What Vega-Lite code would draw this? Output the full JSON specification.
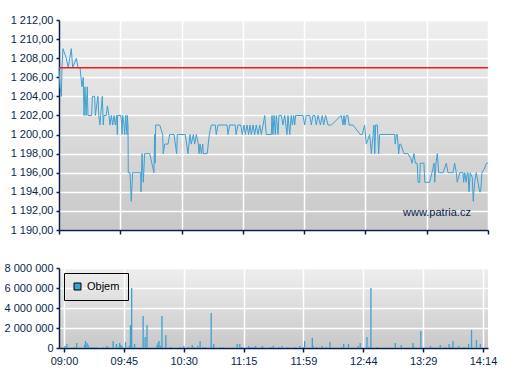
{
  "$schema": "https://vega.github.io/schema/vega-lite/v6.json",
  "padding": {"left": 4, "top": 14, "right": 5, "bottom": 5},
  "background": "white",
  "spacing": 27,
  "resolve": {"scale": {"color": "independent"}, "legend": {"color": "independent"}},
  "config": {
    "font": "Liberation Sans",
    "view": {"stroke": null, "fill": {"gradient": "linear", "x1": 0, "y1": 0, "x2": 0, "y2": 1, "stops": [{"offset": 0, "color": "#efefef"}, {"offset": 1, "color": "#c8c8c8"}]}},
    "axis": {"labelFont": "Liberation Sans", "labelFontSize": 11, "labelColor": "#0a1f4d", "domainColor": "#0a1f4d", "tickColor": "#0a1f4d", "domainWidth": 1.5, "tickWidth": 1.5, "gridColor": "#ffffff", "gridWidth": 1.5, "gridOpacity": 1, "labelFlush": false, "labelOverlap": false}
  },
  "datasets": {
    "price": [
      {"m":0.0,"p":1207},{"m":0.7,"p":1205},{"m":1.7,"p":1204},{"m":2.2,"p":1207},{"m":2.9,"p":1209},{"m":5.3,"p":1208},{"m":6.8,"p":1207},{"m":9.0,"p":1209},{"m":10.0,"p":1207},{"m":12.7,"p":1208},{"m":13.9,"p":1207},{"m":15.4,"p":1207},{"m":16.8,"p":1205},{"m":17.8,"p":1206},{"m":18.3,"p":1202},{"m":19.0,"p":1205},{"m":19.8,"p":1202},{"m":20.7,"p":1205},{"m":21.2,"p":1202},{"m":23.9,"p":1202},{"m":24.4,"p":1204},{"m":26.1,"p":1204},{"m":26.6,"p":1202},{"m":28.5,"p":1204},{"m":29.1,"p":1202},{"m":30.0,"p":1201},{"m":30.5,"p":1202},{"m":31.7,"p":1204},{"m":32.4,"p":1201},{"m":32.9,"p":1202},{"m":34.6,"p":1202},{"m":35.4,"p":1203},{"m":36.6,"p":1202},{"m":37.3,"p":1201},{"m":38.3,"p":1202},{"m":39.3,"p":1201},{"m":40.3,"p":1202},{"m":41.2,"p":1201},{"m":42.2,"p":1202},{"m":42.7,"p":1200},{"m":42.9,"p":1202},{"m":45.2,"p":1202},{"m":45.9,"p":1201},{"m":46.1,"p":1200},{"m":46.6,"p":1202},{"m":47.6,"p":1201},{"m":48.1,"p":1200},{"m":48.8,"p":1202},{"m":49.8,"p":1200},{"m":50.0,"p":1202},{"m":50.5,"p":1201},{"m":50.7,"p":1196},{"m":52.0,"p":1196},{"m":52.9,"p":1193},{"m":53.9,"p":1196},{"m":59.8,"p":1196},{"m":60.0,"p":1194},{"m":60.8,"p":1198},{"m":61.7,"p":1195},{"m":62.7,"p":1198},{"m":66.4,"p":1198},{"m":69.5,"p":1196},{"m":70.0,"p":1200},{"m":70.3,"p":1197},{"m":70.8,"p":1201},{"m":73.7,"p":1201},{"m":75.9,"p":1200},{"m":76.3,"p":1198},{"m":77.4,"p":1199},{"m":79.8,"p":1199},{"m":81.0,"p":1200},{"m":84.2,"p":1200},{"m":86.1,"p":1198},{"m":86.6,"p":1200},{"m":92.4,"p":1200},{"m":94.4,"p":1198},{"m":95.9,"p":1200},{"m":96.8,"p":1199},{"m":98.3,"p":1200},{"m":99.3,"p":1199},{"m":100.5,"p":1200},{"m":102.0,"p":1199},{"m":102.5,"p":1198},{"m":103.2,"p":1199},{"m":104.2,"p":1198},{"m":105.2,"p":1199},{"m":105.6,"p":1198},{"m":108.5,"p":1198},{"m":110.0,"p":1200},{"m":111.5,"p":1201},{"m":114.4,"p":1201},{"m":115.1,"p":1200},{"m":116.4,"p":1201},{"m":123.0,"p":1201},{"m":123.7,"p":1200},{"m":124.9,"p":1201},{"m":129.0,"p":1201},{"m":129.6,"p":1200},{"m":131.0,"p":1201},{"m":133.0,"p":1201},{"m":134.2,"p":1200},{"m":135.4,"p":1201},{"m":136.4,"p":1200},{"m":137.6,"p":1201},{"m":138.8,"p":1200},{"m":139.8,"p":1201},{"m":140.8,"p":1200},{"m":142.0,"p":1201},{"m":143.2,"p":1200},{"m":144.4,"p":1201},{"m":145.7,"p":1200},{"m":146.9,"p":1201},{"m":148.1,"p":1200},{"m":150.6,"p":1202},{"m":151.7,"p":1200},{"m":155.4,"p":1200},{"m":155.9,"p":1202},{"m":156.6,"p":1200},{"m":157.4,"p":1202},{"m":158.3,"p":1200},{"m":159.1,"p":1202},{"m":160.3,"p":1200},{"m":161.0,"p":1202},{"m":162.7,"p":1202},{"m":163.9,"p":1201},{"m":165.2,"p":1202},{"m":166.9,"p":1200},{"m":167.6,"p":1202},{"m":168.9,"p":1200},{"m":170.0,"p":1202},{"m":170.8,"p":1201},{"m":171.8,"p":1202},{"m":172.5,"p":1201},{"m":173.2,"p":1202},{"m":178.6,"p":1202},{"m":179.8,"p":1201},{"m":181.0,"p":1202},{"m":183.5,"p":1202},{"m":184.7,"p":1201},{"m":185.9,"p":1202},{"m":187.2,"p":1202},{"m":188.3,"p":1201},{"m":189.6,"p":1202},{"m":191.3,"p":1201},{"m":192.7,"p":1202},{"m":193.7,"p":1201},{"m":195.2,"p":1202},{"m":196.9,"p":1201},{"m":199.3,"p":1201},{"m":206.6,"p":1202},{"m":207.9,"p":1201},{"m":208.6,"p":1202},{"m":209.3,"p":1201},{"m":210.3,"p":1202},{"m":211.5,"p":1202},{"m":212.3,"p":1201},{"m":215.2,"p":1201},{"m":220.5,"p":1200},{"m":222.0,"p":1200},{"m":223.7,"p":1201},{"m":224.9,"p":1199},{"m":226.2,"p":1199.5},{"m":227.4,"p":1200},{"m":228.6,"p":1198},{"m":230.6,"p":1201},{"m":231.1,"p":1198},{"m":231.8,"p":1201},{"m":233.0,"p":1201},{"m":234.0,"p":1198},{"m":234.7,"p":1200},{"m":245.7,"p":1200},{"m":246.1,"p":1199},{"m":246.9,"p":1200},{"m":247.6,"p":1200},{"m":248.6,"p":1198},{"m":249.4,"p":1199},{"m":250.1,"p":1199},{"m":252.5,"p":1198},{"m":255.4,"p":1198},{"m":257.4,"p":1197.5},{"m":258.4,"p":1197},{"m":259.8,"p":1198},{"m":260.8,"p":1197},{"m":262.2,"p":1197},{"m":262.8,"p":1195},{"m":264.0,"p":1195},{"m":264.4,"p":1197},{"m":267.1,"p":1197},{"m":267.7,"p":1195},{"m":271.3,"p":1195},{"m":273.0,"p":1196},{"m":274.5,"p":1197},{"m":275.0,"p":1195},{"m":275.9,"p":1197},{"m":276.9,"p":1198},{"m":277.9,"p":1196},{"m":278.6,"p":1196},{"m":281.1,"p":1196},{"m":283.5,"p":1197},{"m":284.7,"p":1196},{"m":288.4,"p":1196},{"m":289.6,"p":1197},{"m":290.8,"p":1196},{"m":291.5,"p":1195},{"m":293.3,"p":1196},{"m":295.7,"p":1196},{"m":296.2,"p":1195},{"m":296.9,"p":1196},{"m":298.1,"p":1195},{"m":298.8,"p":1196},{"m":299.4,"p":1196},{"m":300.1,"p":1194},{"m":301.0,"p":1196},{"m":302.5,"p":1195.5},{"m":303.2,"p":1193},{"m":304.2,"p":1195},{"m":305.4,"p":1196},{"m":306.7,"p":1195},{"m":307.9,"p":1194},{"m":308.6,"p":1194},{"m":309.6,"p":1196},{"m":311.6,"p":1196.5},{"m":312.8,"p":1197},{"m":314.0,"p":1197}
    ],
    "volume": [
      {"m":0.7,"v":200000},{"m":2.2,"v":400000},{"m":7.5,"v":100000},{"m":9.5,"v":500000},{"m":15.4,"v":300000},{"m":16.1,"v":700000},{"m":17.3,"v":500000},{"m":18.1,"v":300000},{"m":19.2,"v":100000},{"m":21.0,"v":100000},{"m":22.9,"v":100000},{"m":24.2,"v":100000},{"m":29.5,"v":100000},{"m":32.0,"v":200000},{"m":33.2,"v":100000},{"m":36.8,"v":700000},{"m":39.3,"v":400000},{"m":40.5,"v":100000},{"m":41.7,"v":500000},{"m":42.5,"v":300000},{"m":43.4,"v":200000},{"m":46.1,"v":600000},{"m":49.0,"v":200000},{"m":49.8,"v":2300000},{"m":50.7,"v":6000000},{"m":51.5,"v":100000},{"m":52.9,"v":400000},{"m":59.3,"v":3200000},{"m":60.8,"v":1100000},{"m":62.2,"v":2300000},{"m":69.8,"v":300000},{"m":70.5,"v":500000},{"m":71.2,"v":700000},{"m":72.2,"v":200000},{"m":73.4,"v":3200000},{"m":76.3,"v":1300000},{"m":80.0,"v":100000},{"m":86.9,"v":100000},{"m":89.8,"v":200000},{"m":93.0,"v":100000},{"m":96.1,"v":300000},{"m":97.3,"v":100000},{"m":100.3,"v":200000},{"m":102.0,"v":700000},{"m":104.4,"v":100000},{"m":106.1,"v":100000},{"m":110.3,"v":3500000},{"m":111.0,"v":100000},{"m":112.2,"v":400000},{"m":116.9,"v":100000},{"m":119.5,"v":100000},{"m":129.8,"v":400000},{"m":131.7,"v":400000},{"m":133.0,"v":100000},{"m":138.3,"v":200000},{"m":140.0,"v":100000},{"m":141.5,"v":100000},{"m":142.5,"v":100000},{"m":143.7,"v":200000},{"m":148.1,"v":100000},{"m":148.8,"v":200000},{"m":155.0,"v":100000},{"m":155.9,"v":100000},{"m":156.9,"v":200000},{"m":161.0,"v":100000},{"m":163.4,"v":200000},{"m":167.8,"v":100000},{"m":173.0,"v":100000},{"m":176.6,"v":200000},{"m":179.3,"v":100000},{"m":180.3,"v":700000},{"m":186.1,"v":1000000},{"m":186.6,"v":200000},{"m":189.1,"v":100000},{"m":193.5,"v":200000},{"m":196.4,"v":100000},{"m":199.3,"v":600000},{"m":208.1,"v":100000},{"m":209.6,"v":400000},{"m":213.2,"v":400000},{"m":220.5,"v":200000},{"m":222.0,"v":500000},{"m":227.1,"v":1100000},{"m":228.6,"v":100000},{"m":230.0,"v":6000000},{"m":234.4,"v":100000},{"m":248.3,"v":500000},{"m":252.7,"v":300000},{"m":261.5,"v":500000},{"m":262.3,"v":100000},{"m":267.4,"v":1700000},{"m":274.7,"v":200000},{"m":282.0,"v":300000},{"m":285.7,"v":100000},{"m":288.6,"v":400000},{"m":290.1,"v":100000},{"m":291.5,"v":700000},{"m":295.9,"v":200000},{"m":299.6,"v":100000},{"m":300.3,"v":100000},{"m":303.2,"v":400000},{"m":305.4,"v":1800000},{"m":309.1,"v":800000},{"m":312.0,"v":400000}
    ]
  },
  "vconcat": [
    {
      "width": 429,
      "height": 210,
      "layer": [
        {
          "data": {"name": "price"},
          "mark": {"type": "line", "color": "#3fa0d2", "strokeWidth": 1},
          "encoding": {
            "x": {"field": "m", "type": "quantitative", "title": null, "scale": {"domain": [0, 314], "nice": false, "zero": false},
                  "axis": {"values": [0, 44.857, 89.714, 134.571, 179.429, 224.286, 269.143, 314], "tickCount": 100, "labels": false, "tickSize": 4, "grid": true}},
            "y": {"field": "p", "type": "quantitative", "title": null, "scale": {"domain": [1190, 1212], "nice": false, "zero": false},
                  "axis": {"values": [1190, 1192, 1194, 1196, 1198, 1200, 1202, 1204, 1206, 1208, 1210, 1212], "tickCount": 100, "tickSize": 3, "labelPadding": 3, "grid": true,
                           "labelExpr": "replace(replace(format(datum.value, ',.2f'), ',', ' '), '.', ',')"}}
          }
        },
        {
          "data": {"values": [{"ref": 1207}]},
          "mark": {"type": "rule", "color": "#ee1c1c", "strokeWidth": 1.3},
          "encoding": {"y": {"field": "ref", "type": "quantitative"}}
        },
        {
          "data": {"values": [{"label": "www.patria.cz", "m": 301.5, "p": 1191.8}]},
          "mark": {"type": "text", "align": "right", "baseline": "middle", "fontSize": 11, "font": "Liberation Sans", "color": "#0a1f4d"},
          "encoding": {
            "x": {"field": "m", "type": "quantitative"},
            "y": {"field": "p", "type": "quantitative"},
            "text": {"field": "label"}
          }
        }
      ]
    },
    {
      "width": 429,
      "height": 80,
      "data": {"name": "volume"},
      "mark": {"type": "bar", "size": 1.3},
      "encoding": {
        "x": {"field": "m", "type": "quantitative", "title": null, "scale": {"domain": [0, 314], "nice": false, "zero": false},
              "axis": {"values": [0, 44.857, 89.714, 134.571, 179.429, 224.286, 269.143, 314], "tickCount": 100, "tickSize": 4, "labelPadding": 3, "grid": true,
                       "labelExpr": "timeFormat(datetime(2020, 0, 1, 9, round(datum.value)), '%H:%M')"}},
        "y": {"field": "v", "type": "quantitative", "title": null, "scale": {"domain": [0, 8000000], "nice": false},
              "axis": {"values": [0, 2000000, 4000000, 6000000, 8000000], "tickCount": 100, "tickSize": 3, "labelPadding": 3, "grid": true,
                       "labelExpr": "replace(format(datum.value, ','), regexp(',', 'g'), ' ')"}},
        "color": {"datum": "Objem", "type": "nominal", "scale": {"range": ["#3fa0d2"]},
                  "legend": {"orient": "top-left", "title": null, "offset": 5, "strokeColor": "black", "padding": 8,
                             "symbolType": "square", "symbolSize": 49, "symbolStrokeColor": "black", "symbolStrokeWidth": 1, "symbolOpacity": 1,
                             "labelFontSize": 11, "labelFont": "Liberation Sans", "labelColor": "black", "labelOffset": 4}}
      }
    }
  ]
}
